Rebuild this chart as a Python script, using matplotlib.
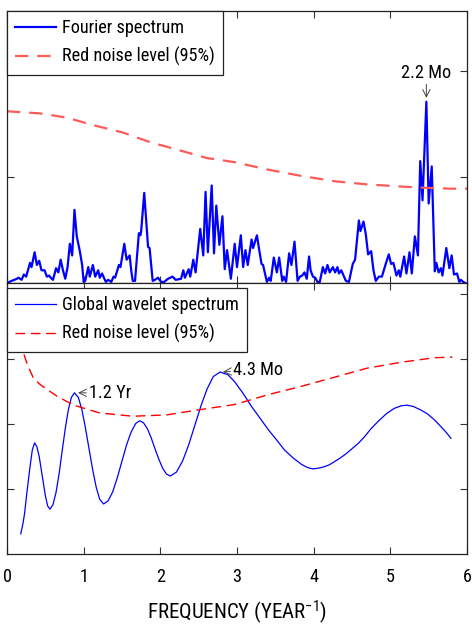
import matplotlib
matplotlib.use("Agg")
import matplotlib.pyplot as plt
from matplotlib import font_manager
from matplotlib.font_manager import FontProperties
from matplotlib.textpath import TextPath

# look for a narrow / condensed sans font, else plain Liberation Sans
narrow = []
for f in font_manager.fontManager.ttflist:
    if f.style != 'normal' or f.weight not in (400, 'normal', 'regular', 'book'):
        continue
    if 'Narrow' in f.name or 'Condensed' in f.name or f.stretch in ('condensed', 'semi-condensed'):
        narrow.append(f)
pref = ['Liberation Sans Narrow', 'Roboto Condensed', 'Open Sans', 'DejaVu Sans', 'Noto Sans']
narrow.sort(key=lambda f: min([i for i, p in enumerate(pref) if f.name.startswith(p)] + [99]))
if narrow:
    FONT, STRETCH = narrow[0].name, narrow[0].stretch
else:
    FONT, STRETCH = 'Liberation Sans', 'normal'

plt.rcParams['font.family'] = [FONT, 'DejaVu Sans']
plt.rcParams['font.stretch'] = STRETCH
plt.rcParams['mathtext.fontset'] = 'custom'
plt.rcParams['mathtext.rm'] = FONT
plt.rcParams['mathtext.it'] = FONT
plt.rcParams['axes.unicode_minus'] = False


def fit_size(text, width_px, max_size):
    # font size (pt) that makes `text` about width_px wide at 100 dpi
    fp = FontProperties(family=FONT, stretch=STRETCH)
    w = TextPath((0, 0), text, size=10, prop=fp).get_extents().width * 100 / 72
    return min(max_size, 10 * width_px / w)


FS = fit_size('Red noise level (95%)', 151, 13.5)
FS_LAB = fit_size('FREQUENCY (YEAR', 156, 17.5)

# ---- data ----
# Fourier spectrum (frequency in 1/yr, power)
fourier_f = [0.00, 0.06, 0.13, 0.15, 0.19, 0.22, 0.25, 0.28, 0.30, 0.32, 0.36, 0.39, 0.42, 0.45,
             0.49, 0.52, 0.55, 0.57, 0.60, 0.64, 0.67, 0.70, 0.73, 0.76, 0.79, 0.82, 0.85, 0.88,
             0.91, 0.95, 0.98, 1.00, 1.02, 1.06, 1.08, 1.12, 1.15, 1.19, 1.21, 1.24, 1.27, 1.29,
             1.32, 1.36, 1.39, 1.41, 1.46, 1.48, 1.53, 1.56, 1.60, 1.62, 1.64, 1.67, 1.72, 1.74,
             1.75, 1.79, 1.84, 1.86, 1.90, 1.93, 1.97, 2.01, 2.05, 2.10, 2.16, 2.20, 2.27, 2.30,
             2.32, 2.37, 2.39, 2.43, 2.46, 2.52, 2.56, 2.59, 2.62, 2.67, 2.70, 2.73, 2.77, 2.81,
             2.84, 2.87, 2.92, 2.97, 3.00, 3.05, 3.08, 3.11, 3.14, 3.19, 3.21, 3.26, 3.29, 3.32,
             3.34, 3.39, 3.42, 3.44, 3.48, 3.52, 3.55, 3.59, 3.61, 3.64, 3.68, 3.71, 3.75, 3.79,
             3.82, 3.85, 3.88, 3.91, 3.94, 3.96, 3.99, 4.02, 4.05, 4.08, 4.12, 4.15, 4.18, 4.21,
             4.25, 4.28, 4.31, 4.33, 4.36, 4.39, 4.42, 4.46, 4.51, 4.54, 4.56, 4.59, 4.61, 4.65,
             4.68, 4.71, 4.75, 4.78, 4.81, 4.85, 4.89, 4.94, 4.98, 5.01, 5.04, 5.08, 5.11, 5.13,
             5.18, 5.21, 5.25, 5.28, 5.32, 5.36, 5.39, 5.42, 5.47, 5.50, 5.54, 5.58, 5.60, 5.63,
             5.66, 5.68, 5.73, 5.77, 5.80, 5.83, 5.87, 5.90, 5.92, 5.95, 5.98]
fourier_p = [0.00, 0.02, 0.04, 0.05, 0.03, 0.08, 0.06, 0.14, 0.19, 0.15, 0.29, 0.17, 0.21, 0.12,
             0.12, 0.06, 0.07, 0.05, 0.03, 0.14, 0.10, 0.22, 0.12, 0.04, 0.15, 0.37, 0.26, 0.69,
             0.44, 0.30, 0.17, 0.01, 0.02, 0.15, 0.06, 0.17, 0.06, 0.12, 0.05, 0.09, 0.04, 0.01,
             0.03, 0.01, 0.06, 0.05, 0.17, 0.15, 0.37, 0.22, 0.26, 0.12, 0.02, 0.02, 0.47, 0.45,
             0.49, 0.85, 0.34, 0.33, 0.02, 0.03, 0.05, 0.01, 0.01, 0.04, 0.06, 0.03, 0.04, 0.12,
             0.05, 0.13, 0.06, 0.22, 0.10, 0.51, 0.26, 0.86, 0.29, 0.92, 0.28, 0.73, 0.36, 0.63,
             0.13, 0.31, 0.04, 0.37, 0.15, 0.45, 0.15, 0.31, 0.17, 0.41, 0.33, 0.45, 0.31, 0.18,
             0.17, 0.01, 0.05, 0.02, 0.24, 0.10, 0.24, 0.02, 0.06, 0.01, 0.28, 0.17, 0.39, 0.02,
             0.06, 0.07, 0.10, 0.04, 0.25, 0.12, 0.06, 0.05, 0.01, 0.01, 0.15, 0.09, 0.17, 0.10,
             0.15, 0.10, 0.15, 0.09, 0.12, 0.07, 0.02, 0.01, 0.18, 0.22, 0.37, 0.59, 0.49, 0.58,
             0.46, 0.27, 0.30, 0.12, 0.02, 0.06, 0.06, 0.18, 0.27, 0.18, 0.19, 0.07, 0.12, 0.06,
             0.25, 0.09, 0.29, 0.09, 0.44, 0.26, 1.15, 0.78, 1.71, 0.75, 1.10, 0.11, 0.19, 0.10,
             0.14, 0.07, 0.33, 0.14, 0.26, 0.08, 0.09, 0.01, 0.03, 0.01, 0.00]

# red noise level (95%), top panel
red1_f = [0.00, 0.43, 0.78, 1.12, 1.51, 1.86, 2.21, 2.60, 2.97, 3.40, 3.84, 4.27, 4.70, 5.14,
          5.40, 5.79, 6.00]
red1_p = [1.62, 1.60, 1.56, 1.49, 1.42, 1.33, 1.26, 1.18, 1.14, 1.07, 1.01, 0.96, 0.93, 0.91,
          0.90, 0.89, 0.89]

# global wavelet spectrum, bottom panel
gws_f = [0.18, 0.21, 0.23, 0.26, 0.30, 0.33, 0.36, 0.39, 0.42, 0.46, 0.50, 0.53, 0.56, 0.60,
         0.64, 0.68, 0.72, 0.76, 0.80, 0.84, 0.88, 0.93, 0.975, 1.02, 1.07, 1.12, 1.165, 1.21,
         1.26, 1.32, 1.38, 1.44, 1.50, 1.56, 1.62, 1.68, 1.73, 1.78, 1.83, 1.88, 1.93, 1.98,
         2.03, 2.08, 2.13, 2.21, 2.29, 2.37, 2.45, 2.53, 2.61, 2.69, 2.78, 2.88, 2.97, 3.08,
         3.19, 3.30, 3.41, 3.52, 3.62, 3.73, 3.84, 3.92, 3.99, 4.06, 4.13, 4.20, 4.27, 4.35,
         4.42, 4.50, 4.58, 4.66, 4.75, 4.84, 4.95, 5.05, 5.14, 5.22, 5.30, 5.39, 5.48, 5.57,
         5.66, 5.73, 5.79]
gws_p = [0.31, 0.48, 0.63, 0.95, 1.34, 1.60, 1.71, 1.65, 1.50, 1.20, 0.90, 0.74, 0.69, 0.76,
         0.95, 1.24, 1.59, 1.93, 2.22, 2.41, 2.48, 2.41, 2.23, 1.96, 1.62, 1.28, 1.02, 0.84,
         0.77, 0.82, 0.96, 1.18, 1.43, 1.68, 1.88, 2.01, 2.05, 2.02, 1.93, 1.79, 1.62, 1.46,
         1.32, 1.23, 1.20, 1.26, 1.43, 1.68, 1.98, 2.28, 2.54, 2.73, 2.80, 2.76, 2.65, 2.47,
         2.27, 2.09, 1.91, 1.75, 1.60, 1.48, 1.38, 1.33, 1.31, 1.32, 1.34, 1.37, 1.42, 1.48,
         1.54, 1.62, 1.70, 1.80, 1.93, 2.04, 2.16, 2.24, 2.28, 2.29, 2.27, 2.22, 2.16, 2.07,
         1.96, 1.87, 1.78]

# red noise level (95%), bottom panel
red2_f = [0.18, 0.21, 0.27, 0.34, 0.42, 0.50, 0.65, 0.87, 1.21, 1.64, 2.08, 2.51, 2.97, 3.40,
          3.84, 4.27, 4.70, 5.14, 5.57, 5.81]
red2_p = [3.30, 3.11, 2.90, 2.72, 2.62, 2.55, 2.43, 2.29, 2.17, 2.12, 2.14, 2.22, 2.30, 2.45,
          2.58, 2.72, 2.86, 2.95, 3.02, 3.03]

xticks = [0, 1, 2, 3, 4, 5, 6]

# ---- figure ----
W, H = 472, 628
fig = plt.figure(figsize=(W / 100, H / 100), dpi=100)
ax1 = fig.add_axes([7 / W, (H - 283) / H, 460 / W, 272 / H])
ax2 = fig.add_axes([7 / W, (H - 554) / H, 460 / W, 271 / H])

ax1.plot(fourier_f, fourier_p, color='#0000ff', lw=1.6, label='Fourier spectrum')
ax1.plot(red1_f, red1_p, color='#ff5a5a', lw=1.6, ls=(0, (6, 4)), label='Red noise level (95%)')
ax1.set_xlim(0, 6)
ax1.set_ylim(0, 2.566)
ax1.set_yticks([1, 2])
ax1.set_xticks(xticks)
ax1.set_xticklabels([])
ax1.set_yticklabels([])

ax2.plot(gws_f, gws_p, color='#0000ff', lw=0.9, label='Global wavelet spectrum')
ax2.plot(red2_f, red2_p, color='#ff0000', lw=1.0, ls=(0, (7, 4)), label='Red noise level (95%)')
ax2.set_xlim(0, 6)
ax2.set_ylim(0, 4.17)
ax2.set_yticks([1, 2, 3, 4])
ax2.set_yticklabels([])
ax2.set_xticks(xticks)
ax2.set_xticklabels([str(t) for t in xticks])

for ax in (ax1, ax2):
    ax.tick_params(direction='in', length=5, width=0.8, color='#333333',
                   top=True, right=True, labelsize=FS, pad=10)
    for s in ax.spines.values():
        s.set_color('#222222')
        s.set_linewidth(0.9)

ax2.set_xlabel(r'FREQUENCY (YEAR$^{-1}$)', fontsize=FS_LAB, labelpad=9)

leg_kw = dict(fontsize=FS, frameon=True, fancybox=False, edgecolor='#222222',
              handlelength=41 / (FS * 1.39), handletextpad=0.3, borderaxespad=0,
              loc='upper left', borderpad=0.45, labelspacing=0.55)
l1 = ax1.legend(**leg_kw)
l2 = ax2.legend(bbox_to_anchor=(0, 1 - 5 / 271), **leg_kw)
for l in (l1, l2):
    l.get_frame().set_linewidth(0.9)
    l.get_frame().set_alpha(1)

arr = dict(arrowstyle='->', color='#444444', lw=0.7, shrinkA=0, shrinkB=2)
ax1.annotate('2.2 Mo', xy=(5.47, 1.72), xytext=(5.47, 1.90), ha='center', va='bottom',
             fontsize=FS, arrowprops=arr)
ax2.annotate('1.2 Yr', xy=(0.89, 2.48), xytext=(1.07, 2.48), ha='left', va='center',
             fontsize=FS, arrowprops=arr)
ax2.annotate('4.3 Mo', xy=(2.78, 2.80), xytext=(2.95, 2.83), ha='left', va='center',
             fontsize=FS, arrowprops=arr)

fig.savefig('out.png', dpi=100)
